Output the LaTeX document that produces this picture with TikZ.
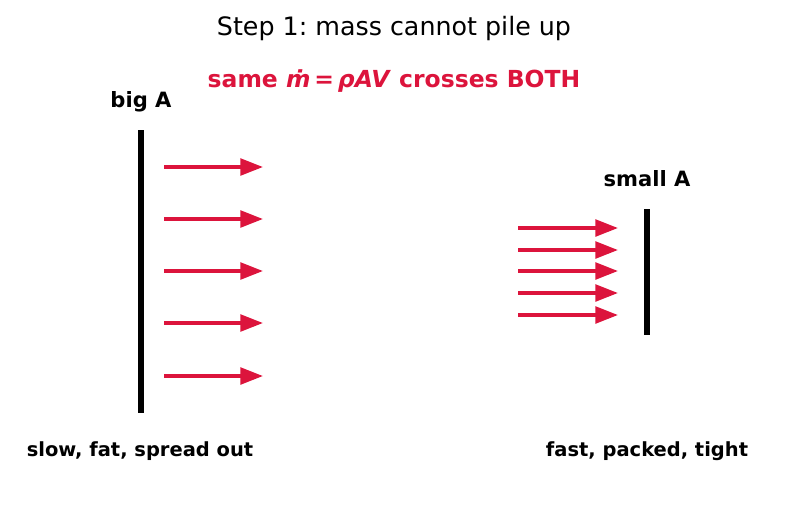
\documentclass[tikz,border=0pt]{standalone}
\usepackage{fontspec}
\setmainfont{DejaVu Sans}
\usetikzlibrary{arrows.meta}
\definecolor{crim}{RGB}{220,20,60}
\frenchspacing
\tikzset{
  flow/.style={crim, line width=2.6pt, -{Triangle[length=17pt,width=12.5pt]}},
  bar/.style={black, line width=3.8pt},
  lbl/.style={font=\fontsize{14.6pt}{17pt}\selectfont\bfseries, inner sep=0pt, anchor=base},
  alabel/.style={font=\fontsize{15.8pt}{19pt}\selectfont\bfseries, inner sep=0pt, anchor=base},
}
\begin{document}
\begin{tikzpicture}[x=0.75pt,y=-0.75pt]
\useasboundingbox (0,0) rectangle (787,512);
\node[inner sep=0pt, anchor=base, font=\fontsize{19pt}{23pt}\selectfont] (title) at (394,35.5) {Step 1: mass cannot pile up};
\node[inner sep=0pt, anchor=base, text=crim, font=\fontsize{17.6pt}{21pt}\selectfont\bfseries] (sub) at (394,87.5) {same \textit{ṁ}\,=\,\textit{ρAV} crosses BOTH};
% left
\coordinate (bt) at (141,130); \coordinate (bb) at (141,413);
\draw[bar] (bt) -- (bb);
\node[alabel] (bigA) at (141,107) {big A};
\node[lbl] (slow) at (140,456.5) {slow, fat, spread out};
\foreach \y [count=\i] in {167,219,271,323,376} {
  \coordinate (ls\i) at (164,\y); \coordinate (le\i) at (263,\y);
  \draw[flow] (ls\i) -- (le\i);
}
% right
\coordinate (st) at (647,209); \coordinate (sb) at (647,335);
\draw[bar] (st) -- (sb);
\node[alabel] (smallA) at (647,186.5) {small A};
\node[lbl] (fast) at (647,456.5) {fast, packed, tight};
\foreach \y [count=\i] in {228,250,271,293,315} {
  \coordinate (rs\i) at (518,\y); \coordinate (re\i) at (618,\y);
  \draw[flow] (rs\i) -- (re\i);
}
\end{tikzpicture}
\end{document}
